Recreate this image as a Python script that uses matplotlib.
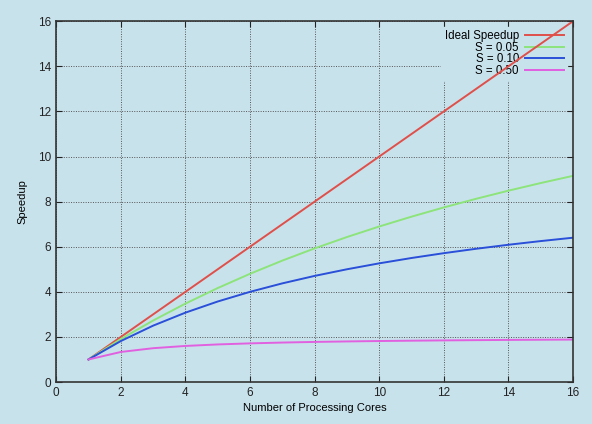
import matplotlib as mpl
mpl.use('Agg')
import matplotlib.pyplot as plt

plt.rcParams['font.family'] = ['Liberation Sans', 'DejaVu Sans']

cores = list(range(1, 17))
ideal = [1, 2, 3, 4, 5, 6, 7, 8, 9, 10, 11, 12, 13, 14, 15, 16]
s005 = [1.0, 1.905, 2.727, 3.478, 4.167, 4.8, 5.385, 5.926, 6.429, 6.897,
        7.333, 7.742, 8.125, 8.485, 8.824, 9.143]
s010 = [1.0, 1.818, 2.5, 3.077, 3.571, 4.0, 4.375, 4.706, 5.0, 5.263,
        5.5, 5.714, 5.909, 6.087, 6.25, 6.4]
s050 = [1.0, 1.333, 1.5, 1.6, 1.667, 1.714, 1.75, 1.778, 1.8, 1.818,
        1.833, 1.846, 1.857, 1.867, 1.875, 1.882]

bg = '#c8e2ec'
fig = plt.figure(figsize=(5.92, 4.24), dpi=100, facecolor=bg)
ax = fig.add_axes([0.095, 0.099, 0.873, 0.851], facecolor=bg)
ax.set_axisbelow(True)

ax.plot(cores, ideal, color='#e0504a', lw=1.4, label='Ideal Speedup', zorder=3)
ax.plot(cores, s005, color='#8ce47a', lw=1.4, label='S = 0.05', zorder=3)
ax.plot(cores, s010, color='#2a4fd8', lw=1.4, label='S = 0.10', zorder=3)
ax.plot(cores, s050, color='#e060e0', lw=1.4, label='S = 0.50', zorder=3)

ax.set_xlim(0, 16)
ax.set_ylim(0, 16)
ax.set_xticks(range(0, 17, 2))
ax.set_yticks(range(0, 17, 2))
ax.grid(True, color='#555555', linestyle=(0, (1, 1.5)), lw=0.7)
ax.tick_params(direction='in', top=True, right=True, length=4,
               labelsize=8.5, colors='#222222')
for sp in ax.spines.values():
    sp.set_color('#333333')
    sp.set_linewidth(1.2)
    sp.set_zorder(4)

ax.set_xlabel('Number of Processing Cores', fontsize=8, labelpad=3)
ax.set_ylabel('Speedup', fontsize=8, labelpad=8)

leg = ax.legend(loc='upper right', markerfirst=False, fontsize=8.3,
                frameon=True, facecolor=bg, edgecolor=bg, framealpha=1,
                handlelength=3.4, handletextpad=0.5, labelspacing=-0.05,
                borderaxespad=0.5, borderpad=0.3)
for t in leg.get_texts():
    t.set_ha('right')
leg.set_zorder(2)

plt.savefig('out.png', dpi=100, facecolor=bg)
